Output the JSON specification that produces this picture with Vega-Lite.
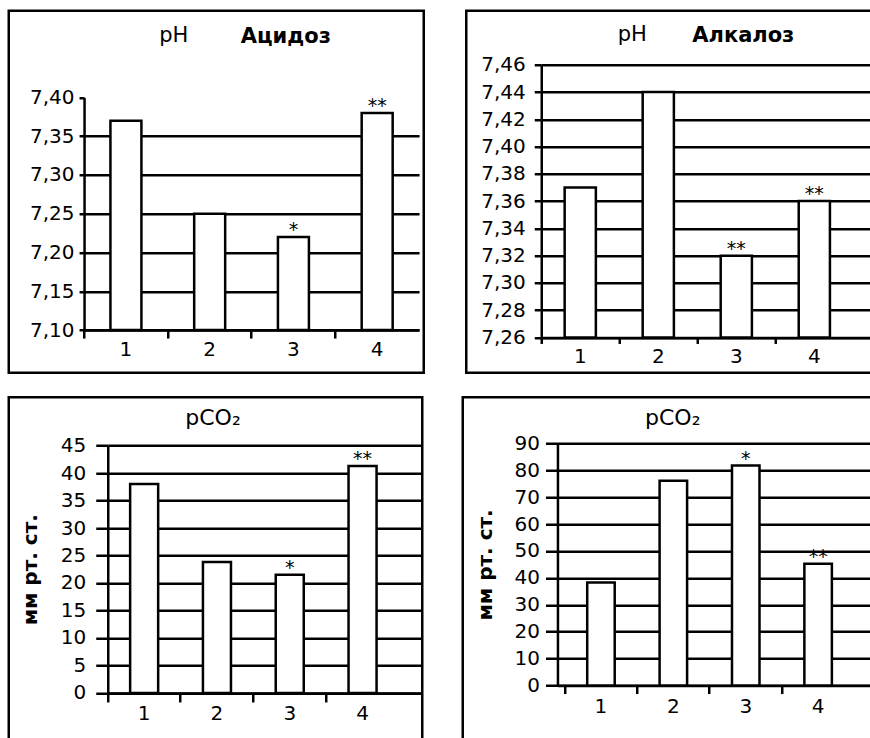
{
  "$schema": "https://vega.github.io/schema/vega-lite/v6.json",
  "background": "white",
  "padding": {"left": 6.75, "top": 8.75, "right": 0, "bottom": 0},
  "spacing": 20.5,
  "config": {
    "font": "DejaVu Sans",
    "view": {"stroke": "black", "strokeWidth": 2.5},
    "axis": {
      "domainColor": "black", "domainWidth": 2.5,
      "tickColor": "black", "tickWidth": 2.5,
      "labelColor": "black", "labelFont": "DejaVu Sans", "labelFontSize": 20,
      "titleColor": "black", "titleFont": "DejaVu Sans",
      "labelOverlap": false,
      "gridColor": "black", "gridWidth": 2.5, "gridOpacity": 1
    },
    "title": {"color": "black", "font": "DejaVu Sans"}
  },
  "vconcat": [
    {
      "spacing": 38.5,
      "hconcat": [
        {
          "width": 415, "height": 362,
          "title": {"text": "Ацидоз", "anchor": "start", "frame": "group", "dx": 232, "offset": -36, "fontSize": 21, "fontWeight": "bold"},
          "data": {"values": [
            {"group": "1", "value": 7.37, "sig": ""},
            {"group": "2", "value": 7.25, "sig": ""},
            {"group": "3", "value": 7.22, "sig": "*"},
            {"group": "4", "value": 7.38, "sig": "**"}
          ]},
          "encoding": {
            "x": {"field": "group", "type": "ordinal",
              "scale": {"range": [75.3, 410.3], "paddingInner": 0, "paddingOuter": 0},
              "axis": {"title": null, "labelAngle": 0, "offset": -42.7, "bandPosition": 0, "tickExtra": false, "tickSize": 8, "labelPadding": 1, "grid": false}},
            "y": {"field": "value", "type": "quantitative",
              "scale": {"domain": [7.1, 7.4], "range": [319.3, 86.7], "nice": false, "zero": false},
              "axis": {"values": [7.1, 7.15, 7.2, 7.25, 7.3, 7.35, 7.4], "offset": -75.3, "grid": true, "gridWidth": 2.5, "gridColor": "black",
                "gridOpacity": {"condition": {"test": "datum.value > 7.39", "value": 0}, "value": 1},
                "labelExpr": "replace(format(datum.value, '.2f'), '.', ',')",
                "tickSize": 5, "labelPadding": 5,
                "title": "pH", "titleAngle": 0, "titleX": 74.7, "titleY": 31, "titleAlign": "left", "titleBaseline": "alphabetic", "titleFontWeight": "normal", "titleFontSize": 21}}
          },
          "layer": [
            {"mark": {"type": "bar", "fill": "white", "stroke": "black", "strokeWidth": 2.5, "width": {"band": 0.37}},
             "encoding": {"y2": {"datum": 7.1}}},
            {"mark": {"type": "text", "baseline": "alphabetic", "dy": -1, "fontSize": 19, "color": "black"},
             "encoding": {"text": {"field": "sig"}}}
          ]
        },
        {
          "width": 430, "height": 362,
          "title": {"text": "Алкалоз", "anchor": "start", "frame": "group", "dx": 226, "offset": -35, "fontSize": 21, "fontWeight": "bold"},
          "data": {"values": [
            {"group": "1", "value": 7.37, "sig": ""},
            {"group": "2", "value": 7.44, "sig": ""},
            {"group": "3", "value": 7.32, "sig": "**"},
            {"group": "4", "value": 7.36, "sig": "**"}
          ]},
          "encoding": {
            "x": {"field": "group", "type": "ordinal",
              "scale": {"range": [75, 430], "paddingInner": 0, "paddingOuter": 0.275, "align": 0},
              "axis": {"title": null, "labelAngle": 0, "offset": -35.3, "bandPosition": 0, "tickExtra": false, "tickSize": 6, "labelPadding": 3, "grid": false}},
            "y": {"field": "value", "type": "quantitative",
              "scale": {"domain": [7.26, 7.46], "range": [326.7, 54], "nice": false, "zero": false},
              "axis": {"values": [7.26, 7.28, 7.3, 7.32, 7.34, 7.36, 7.38, 7.4, 7.42, 7.44, 7.46], "offset": -75, "grid": true, "gridWidth": 2.5, "gridColor": "black",
                "labelExpr": "replace(format(datum.value, '.2f'), '.', ',')",
                "tickSize": 7, "labelPadding": 9,
                "title": "pH", "titleAngle": 0, "titleX": 76, "titleY": 29.5, "titleAlign": "left", "titleBaseline": "alphabetic", "titleFontWeight": "normal", "titleFontSize": 21}}
          },
          "layer": [
            {"mark": {"type": "bar", "fill": "white", "stroke": "black", "strokeWidth": 2.5, "width": {"band": 0.4}},
             "encoding": {"y2": {"datum": 7.26}}},
            {"mark": {"type": "text", "baseline": "alphabetic", "dy": -1, "fontSize": 19, "color": "black"},
             "encoding": {"text": {"field": "sig"}}}
          ]
        }
      ]
    },
    {
      "spacing": 37,
      "hconcat": [
        {
          "width": 413.5, "height": 360,
          "title": {"text": "pCO₂", "anchor": "middle", "frame": "group", "dx": -2.5, "offset": -32.3, "fontSize": 22, "fontWeight": "normal"},
          "data": {"values": [
            {"group": "1", "value": 38.0, "sig": ""},
            {"group": "2", "value": 23.8, "sig": ""},
            {"group": "3", "value": 21.5, "sig": "*"},
            {"group": "4", "value": 41.3, "sig": "**"}
          ]},
          "encoding": {
            "x": {"field": "group", "type": "ordinal",
              "scale": {"range": [99, 413.5], "paddingInner": 0, "paddingOuter": 0.16, "align": 0},
              "axis": {"title": null, "labelAngle": 0, "offset": -64.3, "bandPosition": 0, "tickExtra": false, "tickSize": 9, "labelPadding": 2, "grid": false}},
            "y": {"field": "value", "type": "quantitative",
              "scale": {"domain": [0, 45], "range": [295.7, 48.3], "nice": false},
              "axis": {"values": [0, 5, 10, 15, 20, 25, 30, 35, 40, 45], "offset": -99, "grid": true, "gridWidth": 2.5, "gridColor": "black",
                "tickSize": 12, "labelPadding": 10,
                "title": "мм рт. ст.", "titleFontWeight": "bold", "titleFontSize": 20, "titlePadding": 20}}
          },
          "layer": [
            {"mark": {"type": "bar", "fill": "white", "stroke": "black", "strokeWidth": 2.5, "width": {"band": 0.385}},
             "encoding": {"y2": {"datum": 0}}},
            {"mark": {"type": "text", "baseline": "alphabetic", "dy": -1, "fontSize": 19, "color": "black"},
             "encoding": {"text": {"field": "sig"}}}
          ]
        },
        {
          "width": 430, "height": 360,
          "title": {"text": "pCO₂", "anchor": "middle", "frame": "group", "dx": -5, "offset": -32.3, "fontSize": 22, "fontWeight": "normal"},
          "data": {"values": [
            {"group": "1", "value": 38.3, "sig": ""},
            {"group": "2", "value": 76.1, "sig": ""},
            {"group": "3", "value": 81.7, "sig": "*"},
            {"group": "4", "value": 45.2, "sig": "**"}
          ]},
          "encoding": {
            "x": {"field": "group", "type": "ordinal",
              "scale": {"range": [94.7, 430], "paddingInner": 0, "paddingOuter": 0.316, "align": 0.16},
              "axis": {"title": null, "labelAngle": 0, "offset": -71.7, "bandPosition": 0, "tickExtra": false, "tickSize": 8, "labelPadding": 3, "grid": false}},
            "y": {"field": "value", "type": "quantitative",
              "scale": {"domain": [0, 90], "range": [288.3, 46], "nice": false},
              "axis": {"values": [0, 10, 20, 30, 40, 50, 60, 70, 80, 90], "offset": -94.7, "grid": true, "gridWidth": 2.5, "gridColor": "black",
                "tickSize": 12, "labelPadding": 6,
                "title": "мм рт. ст.", "titleFontWeight": "bold", "titleFontSize": 20, "titlePadding": 19}}
          },
          "layer": [
            {"mark": {"type": "bar", "fill": "white", "stroke": "black", "strokeWidth": 2.5, "width": {"band": 0.38}},
             "encoding": {"y2": {"datum": 0}}},
            {"mark": {"type": "text", "baseline": "alphabetic", "dy": -1, "fontSize": 19, "color": "black"},
             "encoding": {"text": {"field": "sig"}}}
          ]
        }
      ]
    }
  ]
}
